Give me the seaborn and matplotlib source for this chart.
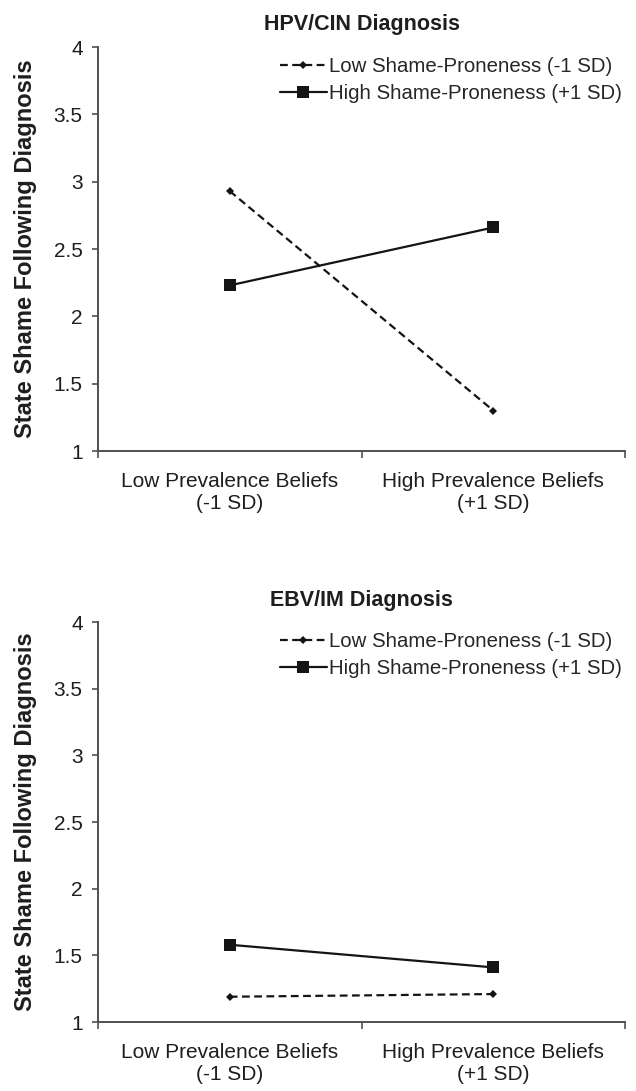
import numpy as np
import pandas as pd
import matplotlib
matplotlib.use('Agg')
import matplotlib.pyplot as plt
import seaborn as sns

# categories on the x axis
prevalence = ['Low Prevalence Beliefs\n(-1 SD)', 'High Prevalence Beliefs\n(+1 SD)']
series_names = ['Low Shame-Proneness (-1 SD)', 'High Shame-Proneness (+1 SD)']
y_ticks = [1, 1.5, 2, 2.5, 3, 3.5, 4]
y_tick_labels = ['1', '1.5', '2', '2.5', '3', '3.5', '4']

# HPV/CIN panel
hpv_low_shame = [2.93, 1.30]
hpv_high_shame = [2.23, 2.66]

# EBV/IM panel
ebv_low_shame = [1.19, 1.21]
ebv_high_shame = [1.58, 1.41]

panels = [
    ('HPV/CIN Diagnosis', hpv_low_shame, hpv_high_shame),
    ('EBV/IM Diagnosis', ebv_low_shame, ebv_high_shame),
]

sns.set_style('white')
plt.rcParams['font.family'] = ['Liberation Sans', 'DejaVu Sans']

fig = plt.figure(figsize=(6.36, 10.91), dpi=100)
axes_rects = [
    [0.154, 0.5866, 0.829, 0.3703],
    [0.154, 0.0632, 0.829, 0.3665],
]

ink = '#141414'
axis_grey = '#505050'
text_col = '#1e1e1e'
dash = (3.5, 2)

for rect, (title, low_vals, high_vals) in zip(axes_rects, panels):
    ax = fig.add_axes(rect)
    xpos = np.arange(len(prevalence)) + 0.5
    df = pd.DataFrame({
        'x': np.concatenate([xpos, xpos]),
        'shame': np.concatenate([low_vals, high_vals]),
        'group': [series_names[0]] * len(xpos) + [series_names[1]] * len(xpos),
    })
    sns.lineplot(data=df, x='x', y='shame', hue='group', style='group',
                 palette=[ink, ink], dashes=[dash, ''],
                 markers=['D', 's'], ax=ax, legend=False, linewidth=1.6)
    # marker sizes per series
    ax.lines[0].set_markersize(4.5)
    ax.lines[1].set_markersize(8.5)
    for ln in ax.lines:
        ln.set_markerfacecolor(ink)
        ln.set_markeredgewidth(0)

    ax.set_xlim(0, 2)
    ax.set_ylim(1, 4)
    ax.set_yticks(y_ticks)
    ax.set_yticklabels(y_tick_labels)
    ax.set_xticks([0, 1, 2])
    ax.set_xticklabels([])
    ax.set_xticks(xpos, minor=True)
    ax.set_xticklabels(prevalence, minor=True)
    ax.tick_params(axis='x', which='minor', length=0, pad=15, labelsize=15, colors=text_col)
    ax.tick_params(axis='x', which='major', length=5, width=1.2, direction='out', color=axis_grey)
    ax.tick_params(axis='y', length=4, width=1.2, direction='out', color=axis_grey,
                   labelsize=15, labelcolor=text_col, pad=7)
    ax.tick_params(bottom=True, left=True)
    for s in ['top', 'right']:
        ax.spines[s].set_visible(False)
    for s in ['left', 'bottom']:
        ax.spines[s].set_color(axis_grey)
        ax.spines[s].set_linewidth(1.4)

    ax.set_xlabel('')
    ax.set_ylabel('State Shame Following Diagnosis', fontsize=17, fontweight='bold',
                  color=text_col, labelpad=12)
    ax.set_title(title, fontsize=15.5, fontweight='bold', color=text_col, pad=12)

    handles = [
        plt.Line2D([], [], color=ink, lw=1.6, ls=(0, dash), marker='D', ms=4.5, mew=0),
        plt.Line2D([], [], color=ink, lw=1.6, ls='-', marker='s', ms=8.5, mew=0),
    ]
    ax.legend(handles, series_names, loc='upper left', bbox_to_anchor=(0.345, 0.975),
              frameon=False, fontsize=14.7, handlelength=2.3, handletextpad=0.12,
              labelspacing=0.38, borderaxespad=0, borderpad=0)

fig.savefig('out.png', dpi=100)
